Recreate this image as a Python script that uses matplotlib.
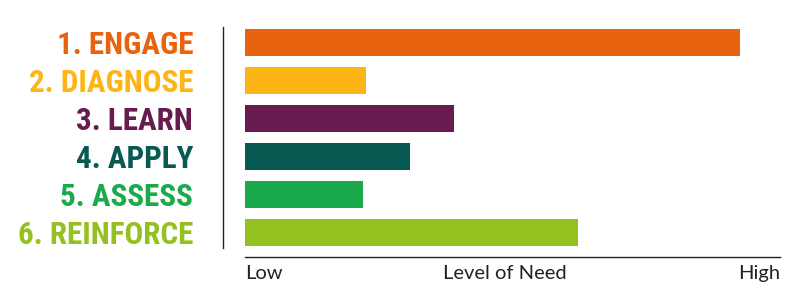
import matplotlib.pyplot as plt
from matplotlib import font_manager

steps = ['1. ENGAGE', '2. DIAGNOSE', '3. LEARN', '4. APPLY', '5. ASSESS', '6. REINFORCE']
need = [92.5, 22.6, 39.0, 30.8, 22.0, 62.2]
colors = ['#E8630F', '#FDB515', '#681B4F', '#075A50', '#1BAA4B', '#94C11F']
scale_labels = ['Low', 'Level of Need', 'High']
scale_pos = [0, 48.6, 100]

names = {f.name for f in font_manager.fontManager.ttflist}
wanted = ['Roboto Condensed', 'Open Sans Condensed', 'Liberation Sans Narrow', 'DejaVu Sans']
narrow = [n for n in wanted if n in names]

fig = plt.figure(figsize=(8, 3.03), dpi=100)
ax = fig.add_axes([245 / 800, 46 / 303, 535 / 800, 237 / 303])

ypos = list(range(len(steps)))
ax.barh(ypos, need, height=0.72, color=colors)
ax.set_xlim(0, 100)
ax.set_ylim(5.645, -0.592)

ax.set_yticks([])
# step labels, right edge about 52 px left of the bars
texts = []
for y, s, c in zip(ypos, steps, colors):
    t = ax.annotate(s, xy=(0, y), xycoords=('axes fraction', 'data'),
                    xytext=(-52, 0), textcoords='offset pixels',
                    ha='right', va='center_baseline', color=c,
                    fontfamily=narrow, fontweight='bold', fontstretch='condensed',
                    fontsize=27)
    texts.append(t)

# shrink so the longest label spans about as wide as in the reference
fig.canvas.draw()
r = fig.canvas.get_renderer()
widest = max(t.get_window_extent(r).width for t in texts)
fs = 27 * 176 / widest
for t in texts:
    t.set_fontsize(fs)

ax.set_xticks(scale_pos)
ax.set_xticklabels(scale_labels, fontfamily='Lato', fontsize=14.5, color='#222222')
for lab, ha in zip(ax.get_xticklabels(), ['left', 'center', 'right']):
    lab.set_ha(ha)
ax.tick_params(axis='x', length=0, pad=6)

for s in ['top', 'right']:
    ax.spines[s].set_visible(False)
ax.spines['bottom'].set_color('#222222')
ax.spines['bottom'].set_linewidth(1)
ax.spines['left'].set_position(('outward', 16))
ax.spines['left'].set_bounds(-0.4, 5.4)
ax.spines['left'].set_color('#222222')
ax.spines['left'].set_linewidth(1)

fig.savefig('out.png', dpi=100)
